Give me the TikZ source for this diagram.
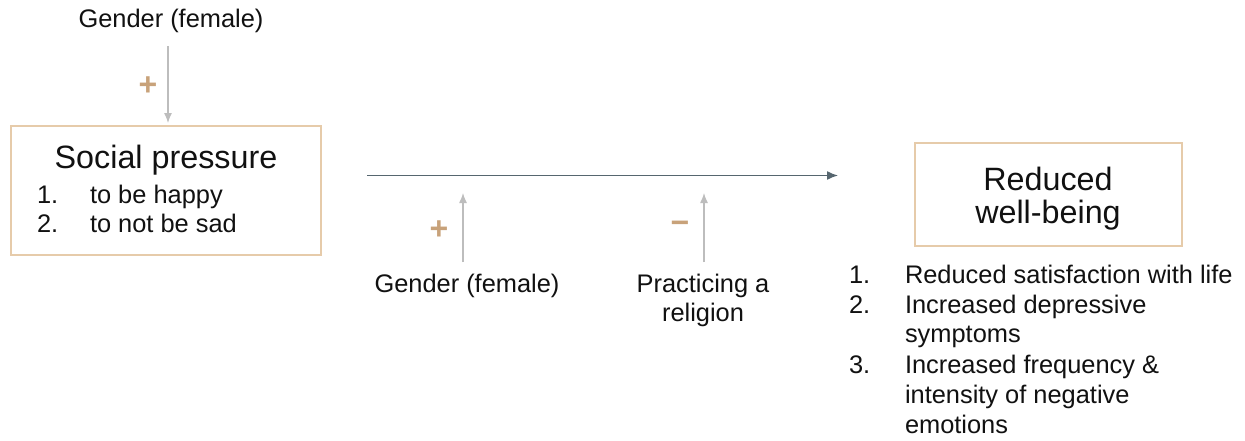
\documentclass[tikz,border=0pt]{standalone}
\usepackage{fontspec}
\setmainfont{Liberation Sans}
\usetikzlibrary{arrows.meta}
\definecolor{tan}{HTML}{C8A27A}
\definecolor{boxline}{HTML}{E6CBAA}
\definecolor{lightarrow}{HTML}{BDBDBD}
\definecolor{mainarrow}{HTML}{56666F}
\definecolor{txt}{HTML}{111111}
\begin{document}
\begin{tikzpicture}[x=1pt,y=-1pt,
  every node/.style={inner sep=0pt,outer sep=0pt,text=txt},
  lbl/.style={font=\fontsize{25.4}{30}\selectfont,anchor=base},
  ttl/.style={font=\fontsize{32.3}{34}\selectfont,anchor=base},
  sign/.style={font=\fontsize{32}{32}\selectfont\bfseries,text=tan},
  boxstyle/.style={draw=boxline,line width=1.4pt,rectangle},
  lightarr/.style={draw=lightarrow,line width=1.3pt,-{Latex[length=10pt,width=8pt]}},
  mainarr/.style={draw=mainarrow,line width=1.4pt,-{Latex[length=11pt,width=9pt]}}]
\useasboundingbox (0,0) rectangle (1245,440);
\fill[white] (0,0) rectangle (1245,440);

% top gender
\node[lbl] (g1) at (171,27) {Gender (female)};
\coordinate (a1s) at (168,46);
\node[boxstyle,minimum width=310pt,minimum height=129pt] (sp) at (166,190.5) {};
\draw[lightarr] (a1s) -- (a1s |- sp.north) [shorten >=3pt];
\node[sign] (s1) at (148,86) {+};

% social pressure content
\node[ttl] (spt) at (166,168) {Social pressure};
\node[lbl,anchor=base west] (sp1) at (37,203) {1.};
\node[lbl,anchor=base west] (sp1t) at (90,203) {to be happy};
\node[lbl,anchor=base west] (sp2) at (37,232) {2.};
\node[lbl,anchor=base west] (sp2t) at (90,232) {to not be sad};

% main arrow
\coordinate (ms) at (367,175.5);
\coordinate (me) at (838,175.5);
\draw[mainarr] (ms) -- (me);

% moderators
\node[lbl] (g2) at (467,292) {Gender (female)};
\coordinate (g2s) at (463,262);
\coordinate (g2e) at (463,193);
\draw[lightarr] (g2s) -- (g2e);
\node[sign] (s2) at (439,230) {+};

\node[lbl] (rel1) at (703,292) {Practicing a};
\node[lbl] (rel2) at (703,321) {religion};
\coordinate (r2s) at (704,262);
\coordinate (r2e) at (704,193);
\draw[lightarr] (r2s) -- (r2e);
\node[sign] (s3) at (680,227) {−};

% reduced well-being
\node[boxstyle,minimum width=267pt,minimum height=103pt] (rw) at (1048.5,194.5) {};
\node[ttl] (rwt1) at (1048,190) {Reduced};
\node[ttl] (rwt2) at (1048,223) {well-being};

\node[lbl,anchor=base west] (n1) at (849,283) {1.};
\node[lbl,anchor=base west] (t1) at (905,283) {Reduced satisfaction with life};
\node[lbl,anchor=base west] (n2) at (849,313) {2.};
\node[lbl,anchor=base west] (t2) at (905,313) {Increased depressive};
\node[lbl,anchor=base west] (t2b) at (905,342) {symptoms};
\node[lbl,anchor=base west] (n3) at (849,373) {3.};
\node[lbl,anchor=base west] (t3) at (905,373) {Increased frequency \&};
\node[lbl,anchor=base west] (t3b) at (905,403) {intensity of negative};
\node[lbl,anchor=base west] (t3c) at (905,433) {emotions};
\end{tikzpicture}
\end{document}
